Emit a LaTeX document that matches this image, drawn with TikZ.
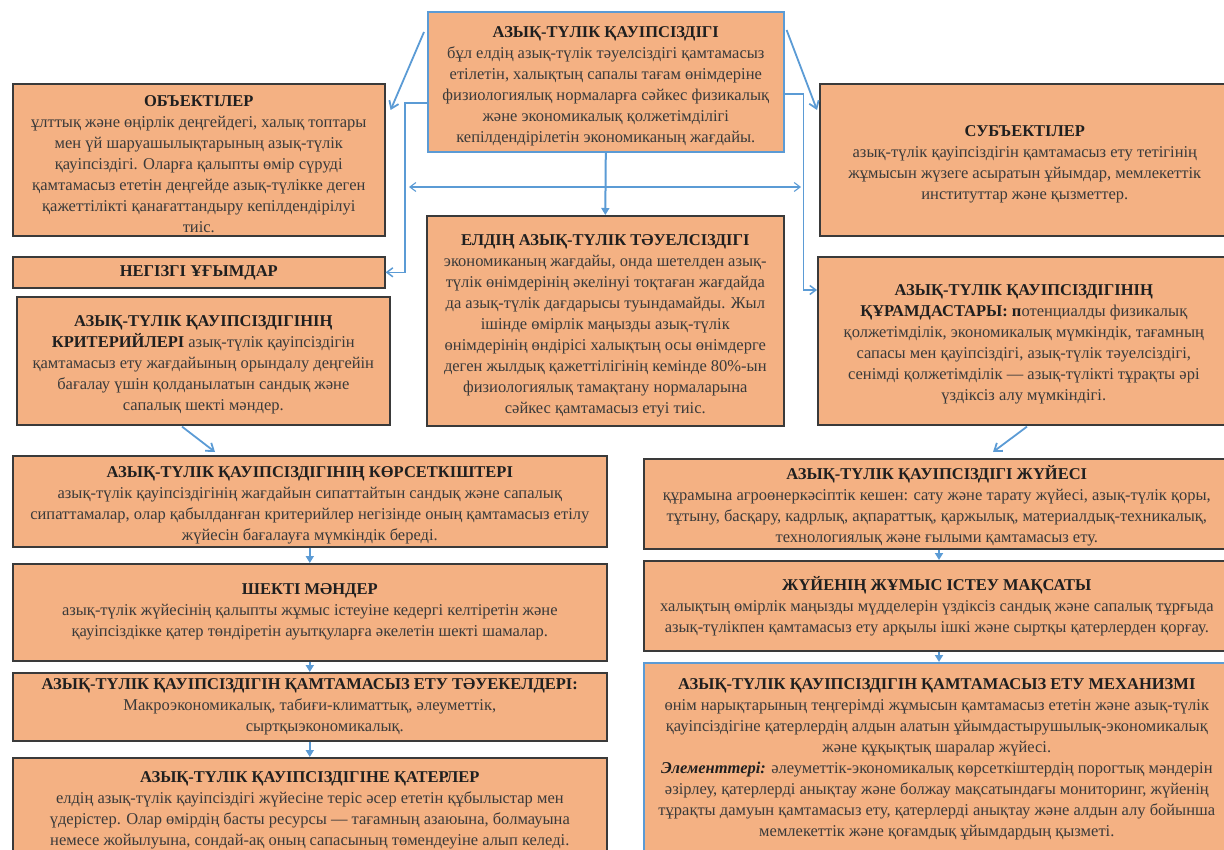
\documentclass[tikz,border=0pt]{standalone}
\usepackage{fontspec}
\setmainfont{Liberation Serif}
\usetikzlibrary{arrows.meta,calc}
\definecolor{boxfill}{HTML}{F4B183}
\definecolor{boxline}{HTML}{3A3A3A}
\definecolor{conn}{HTML}{5B9BD5}
\definecolor{txtc}{HTML}{3A3A3A}
\tikzset{
  box/.style={draw=boxline, fill=boxfill, line width=1.6pt, inner sep=0pt, align=center,
    font=\fontsize{16.5}{21}\selectfont, text=txtc, anchor=north west},
  bluebox/.style={box, draw=conn},
  txtnode/.style={inner sep=0pt, align=center, font=\fontsize{16.5}{21}\selectfont, text=txtc},
  arr/.style={draw=conn, line width=1.8pt, -{Straight Barb[length=7pt,width=10pt]}},
  elb/.style={draw=conn, line width=1.5pt, -{Straight Barb[length=6pt,width=9pt]}},
  varr/.style={draw=conn, line width=2pt, -{Triangle[length=7pt,width=8pt]}},
}
\newcommand{\ttl}[1]{{\bfseries\color{black!88}#1}}
\newcommand{\strA}{\rule{0pt}{20pt}}
\newcommand{\strB}{\rule{0pt}{18pt}}
\begin{document}
\begin{tikzpicture}[x=1pt,y=-1pt]
\useasboundingbox (0,0) rectangle (1224,850);
\clip (0,0) rectangle (1224,850);

% top centre
\node[bluebox, minimum width=356pt, minimum height=140pt] (top) at (427,11)
 {\strA\ttl{АЗЫҚ-ТҮЛІК ҚАУІПСІЗДІГІ}\\
 бұл елдің азық-түлік тәуелсіздігі қамтамасыз\\
 етілетін, халықтың сапалы тағам өнімдеріне\\
 физиологиялық нормаларға сәйкес физикалық\\
 және экономикалық қолжетімділігі\\
 кепілдендірілетін экономиканың жағдайы.};

% left upper
\node[box, minimum width=372pt, minimum height=152pt] (obj) at (12,83)
 {\strA\ttl{ОБЪЕКТІЛЕР}\\
 ұлттық және өңірлік деңгейдегі, халық топтары\\
 мен үй шаруашылықтарының азық-түлік\\
 қауіпсіздігі. Оларға қалыпты өмір сүруді\\
 қамтамасыз ететін деңгейде азық-түлікке деген\\
 қажеттілікті қанағаттандыру кепілдендірілуі\\
 тиіс.};

\node[box, minimum width=372pt, minimum height=31pt] (neg) at (12,256)
 {\ttl{НЕГІЗГІ ҰҒЫМДАР}};

\node[box, minimum width=373pt, minimum height=128pt] (krit) at (16,296)
 {\strB\ttl{АЗЫҚ-ТҮЛІК ҚАУІПСІЗДІГІНІҢ}\\
 \ttl{КРИТЕРИЙЛЕРІ} азық-түлік қауіпсіздігін\\
 қамтамасыз ету жағдайының орындалу деңгейін\\
 бағалау үшін қолданылатын сандық және\\
 сапалық шекті мәндер.};

% right upper
\node[box, minimum width=410pt, minimum height=152pt] (subj) at (819,83)
 {\strA\ttl{СУБЪЕКТІЛЕР}\\
 азық-түлік қауіпсіздігін қамтамасыз ету тетігінің\\
 жұмысын жүзеге асыратын ұйымдар, мемлекеттік\\
 институттар және қызметтер.};

\node[box, minimum width=412pt, minimum height=168pt] (kur) at (817,256)
 {\strB\ttl{АЗЫҚ-ТҮЛІК ҚАУІПСІЗДІГІНІҢ}\\
 \ttl{ҚҰРАМДАСТАРЫ: п}отенциалды физикалық\\
 қолжетімділік, экономикалық мүмкіндік, тағамның\\
 сапасы мен қауіпсіздігі, азық-түлік тәуелсіздігі,\\
 сенімді қолжетімділік — азық-түлікті тұрақты әрі\\
 үздіксіз алу мүмкіндігі.};

% middle
\node[box, minimum width=357pt, minimum height=210pt] (mid) at (426,215)
 {\strA\ttl{ЕЛДІҢ АЗЫҚ-ТҮЛІК ТӘУЕЛСІЗДІГІ}\\
 экономиканың жағдайы, онда шетелден азық-\\
 түлік өнімдерінің әкелінуі тоқтаған жағдайда\\
 да азық-түлік дағдарысы туындамайды. Жыл\\
 ішінде өмірлік маңызды азық-түлік\\
 өнімдерінің өндірісі халықтың осы өнімдерге\\
 деген жылдық қажеттілігінің кемінде 80\%-ын\\
 физиологиялық тамақтану нормаларына\\
 сәйкес қамтамасыз етуі тиіс.};

% left column lower
\node[box, minimum width=594pt, minimum height=91pt] (kors) at (12,455)
 {\strB\ttl{АЗЫҚ-ТҮЛІК ҚАУІПСІЗДІГІНІҢ КӨРСЕТКІШТЕРІ}\\
 азық-түлік қауіпсіздігінің жағдайын сипаттайтын сандық және сапалық\\
 сипаттамалар, олар қабылданған критерийлер негізінде оның қамтамасыз етілу\\
 жүйесін бағалауға мүмкіндік береді.};

\node[box, minimum width=594pt, minimum height=97pt] (shek) at (12,563)
 {\ttl{ШЕКТІ МӘНДЕР}\\
 азық-түлік жүйесінің қалыпты жұмыс істеуіне кедергі келтіретін және\\
 қауіпсіздікке қатер төндіретін ауытқуларға әкелетін шекті шамалар.};

\node[box, minimum width=594pt, minimum height=68pt] (taue) at (12,672)
 {\ttl{АЗЫҚ-ТҮЛІК ҚАУІПСІЗДІГІН ҚАМТАМАСЫЗ ЕТУ ТӘУЕКЕЛДЕРІ:}\\
 Макроэкономикалық, табиғи-климаттық, әлеуметтік,\\
 \hspace*{30pt}сыртқыэкономикалық.};

\node[box, minimum width=594pt, minimum height=110pt] (qater) at (12,757) {};
\node[txtnode, anchor=north] (qatertxt) at ($(qater.north)+(0,14)$)
 {\ttl{АЗЫҚ-ТҮЛІК ҚАУІПСІЗДІГІНЕ ҚАТЕРЛЕР}\\
 елдің азық-түлік қауіпсіздігі жүйесіне теріс әсер ететін құбылыстар мен\\
 үдерістер. Олар өмірдің басты ресурсы — тағамның азаюына, болмауына\\
 немесе жойылуына, сондай-ақ оның сапасының төмендеуіне алып келеді.};

% right column lower
\node[box, minimum width=586pt, minimum height=90pt] (juie) at (643,458)
 {\strB\ttl{АЗЫҚ-ТҮЛІК ҚАУІПСІЗДІГІ ЖҮЙЕСІ}\\
 құрамына агроөнеркәсіптік кешен: сату және тарату жүйесі, азық-түлік қоры,\\
 тұтыну, басқару, кадрлық, ақпараттық, қаржылық, материалдық-техникалық,\\
 технологиялық және ғылыми қамтамасыз ету.};

\node[box, minimum width=586pt, minimum height=90pt] (maqs) at (643,560)
 {\ttl{ЖҮЙЕНІҢ ЖҰМЫС ІСТЕУ МАҚСАТЫ}\\
 халықтың өмірлік маңызды мүдделерін үздіксіз сандық және сапалық тұрғыда\\
 азық-түлікпен қамтамасыз ету арқылы ішкі және сыртқы қатерлерден қорғау.};

\node[bluebox, minimum width=586pt, minimum height=210pt] (mech) at (643,662) {};
\node[txtnode, anchor=north] (mechtxt) at ($(mech.north)+(0,16)$)
 {\ttl{АЗЫҚ-ТҮЛІК ҚАУІПСІЗДІГІН ҚАМТАМАСЫЗ ЕТУ МЕХАНИЗМІ}\\
 өнім нарықтарының теңгерімді жұмысын қамтамасыз ететін және азық-түлік\\
 қауіпсіздігіне қатерлердің алдын алатын ұйымдастырушылық-экономикалық\\
 және құқықтық шаралар жүйесі.\\
 {\bfseries\itshape\color{black!88}Элементтері:} әлеуметтік-экономикалық көрсеткіштердің порогтық мәндерін\\
 әзірлеу, қатерлерді анықтау және болжау мақсатындағы мониторинг, жүйенің\\
 тұрақты дамуын қамтамасыз ету, қатерлерді анықтау және алдын алу бойынша\\
 мемлекеттік және қоғамдық ұйымдардың қызметі.};

% connectors
\coordinate (a1s) at ($(top.north west)+(-3,21)$);
\coordinate (a1e) at ($(obj.north east)+(5,27)$);
\draw[arr] (a1s) -- (a1e);
\coordinate (a2s) at ($(top.north east)+(2,19)$);
\coordinate (a2e) at ($(subj.north west)+(-2,27)$);
\draw[arr] (a2s) -- (a2e);

\draw[elb] ($(top.north west)+(0,92)$) -- ++(-22,0) |- (neg.east);
\draw[elb] ($(top.north east)+(0,83)$) -- ++(19,0) |- ($(kur.north west)+(0,34)$);

\coordinate (dl) at (409,187);
\coordinate (dr) at (801,187);
\draw[draw=conn, line width=1.1pt, {Straight Barb[length=6pt,width=9pt]}-{Straight Barb[length=6pt,width=9pt]}] (dl) -- (dr);

\draw[varr] (top.south) -- (mid.north);

\draw[arr] ($(krit.south west)+(166,1)$) -- ($(kors.north west)+(203,-3)$);
\draw[arr] ($(kur.south west)+(210,1)$) -- ($(juie.north west)+(350,-6)$);

\draw[varr] (kors.south) -- (shek.north);
\draw[varr] (shek.south) -- (taue.north);
\draw[varr] (taue.south) -- (qater.north);
\draw[varr] ($(juie.south west)+(296,0)$) -- ($(maqs.north west)+(296,0)$);
\draw[varr] ($(maqs.south west)+(296,0)$) -- ($(mech.north west)+(296,0)$);
\end{tikzpicture}
\end{document}
